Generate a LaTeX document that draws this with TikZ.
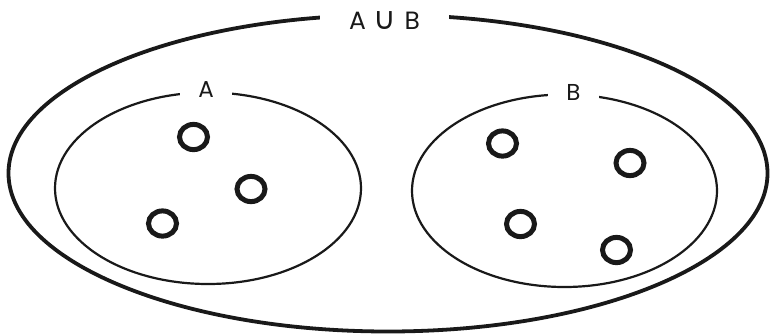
\documentclass[tikz,border=0pt]{standalone}
\usepackage{fontspec}
\setmainfont{Poppins}
\newfontfamily\symfont{DejaVu Sans}
\begin{document}
\begin{tikzpicture}[x=1pt,y=-1pt,
  outerset/.style={draw=black!90,line width=3.8pt},
  innerset/.style={draw=black!90,line width=2.2pt},
  elem/.style={draw=black!90,line width=5pt},
  setlabel/.style={fill=white,inner sep=0pt,minimum height=24pt,text=black!90}]
\useasboundingbox (0,0) rectangle (770,335);
\draw[outerset] (388,173.25) ellipse [x radius=379.5, y radius=158.25];
\draw[innerset] (208,188.25) ellipse [x radius=153, y radius=95.75];
\draw[innerset] (564.5,190.75) ellipse [x radius=152.5, y radius=96.25];
\node[setlabel,minimum width=129pt,font=\fontsize{25}{25}\selectfont] (lu) at (384.5,21)
  {A\hspace{8pt}{\symfont\fontsize{31}{31}\selectfont ∪}\hspace{8pt}B};
\node[setlabel,minimum width=52pt,font=\fontsize{23}{23}\selectfont] (la) at (206,90) {A};
\node[setlabel,minimum width=51pt,font=\fontsize{23}{23}\selectfont] (lb) at (573.5,92) {B};
\foreach \n/\x/\y in {a1/193.5/137, a2/251/189, a3/162.5/223.5, b1/502.5/143.5, b2/630/163, b3/520.5/224, b4/616.5/250}{
  \draw[elem] (\x,\y) ellipse [x radius=14, y radius=12.6];
}
\end{tikzpicture}
\end{document}
